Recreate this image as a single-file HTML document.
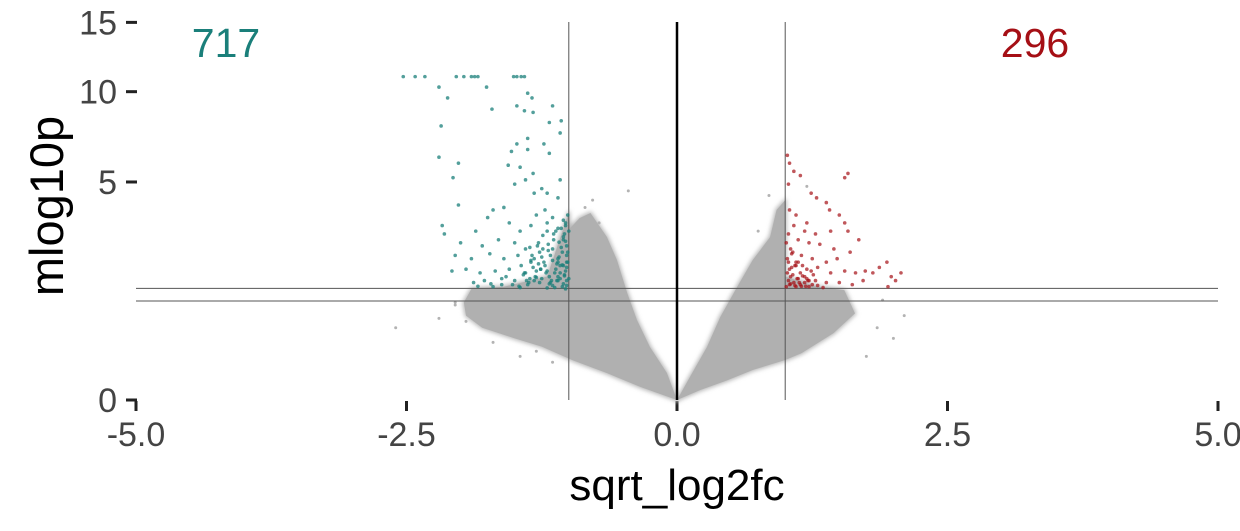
<!DOCTYPE html>
<html><head><meta charset="utf-8"><style>
html,body{margin:0;padding:0;background:#fff;}
svg{display:block;font-family:"Liberation Sans",sans-serif;}
</style></head><body>
<svg id="chart" width="1240" height="531" viewBox="0 0 1240 531">
<defs><filter id="soft" x="-10%" y="-10%" width="120%" height="120%"><feGaussianBlur stdDeviation="2.2"/></filter></defs>
<g id="axes"></g>
<g id="cloud"></g>
<g id="refs"></g>
<g id="down"></g>
<g id="up"></g>
<text x="226" y="57" font-size="41" fill="#1a7f7a" text-anchor="middle">717</text>
<text x="1035" y="57" font-size="41" fill="#a50f15" text-anchor="middle">296</text>
<text x="677" y="500" font-size="44" fill="#000" text-anchor="middle">sqrt_log2fc</text>
<text transform="translate(63,206) rotate(-90)" font-size="47" fill="#000" text-anchor="middle">mlog10p</text>
</svg>
<script>
const xTicks=[-5,-2.5,0,2.5,5];
const xTickLabels=["-5.0","-2.5","0.0","2.5","5.0"];
const yTicks=[0,5,10,15];
const yTickLabels=["0","5","10","15"];
const fcCut=[-1,1];
const pCut=[1.03,1.31];
// grey cloud envelopes (data units)
const cloudLeftX=[0,-0.093,-0.25,-0.37,-0.46,-0.555,-0.647,-0.80,-0.90,-0.99,-1.0,-1.2,-1.6,-1.9,-1.97,-1.95,-1.8,-1.5,-1.25,-0.97,-0.65,-0.34];
const cloudLeftY=[0,0.077,0.295,0.673,1.204,2.06,2.79,3.68,3.48,3.1,3.7,1.6,1.35,1.3,1.0,0.75,0.55,0.4,0.3,0.168,0.077,0.018];
const cloudRightX=[0,0.12,0.277,0.40,0.555,0.70,0.86,0.92,1.0,1.0,1.3,1.546,1.645,1.447,1.15,1.0,0.70,0.46,0.21];
const cloudRightY=[0,0.056,0.295,0.725,1.34,2.06,2.79,3.8,4.2,1.6,1.35,1.27,0.79,0.47,0.23,0.168,0.095,0.04,0.01];
const greyX=[-2.6,-2.2,-2.05,-1.7,-1.45,-1.3,-0.85,-0.45,1.85,2.0,2.1,1.75,1.9,1.2,-2.05,-1.95,-1.15,-0.78,0.75,0.85,-0.72];
const greyY=[0.55,0.7,1.0,0.35,0.2,0.25,3.9,4.6,0.55,0.4,0.75,0.2,1.05,4.8,0.95,0.65,0.15,4.2,3.0,4.4,3.3];
const downX=[-2.53,-2.42,-2.33,-2.04,-1.97,-1.9,-1.87,-1.84,-1.51,-1.48,-1.44,-1.41,-2.2,-2.12,-1.76,-1.38,-1.34,-1.48,-1.41,-1.71,-1.33,-1.15,-1.18,-1.07,-2.18,-1.08,-1.38,-1.48,-1.23,-1.53,-1.38,-1.18,-2.2,-2.02,-1.56,-1.45,-1.33,-1.4,-1.08,-2.07,-1.5,-1.25,-1.2,-1.32,-1.1,-2.02,-1.7,-1.6,-1.3,-1.22,-1.15,-1.05,-2.17,-2.15,-1.86,-1.75,-1.55,-1.45,-1.35,-1.2,-1.1,-1.03,-2.0,-1.8,-1.65,-1.5,-1.4,-1.28,-1.15,-1.05,-2.05,-1.9,-1.73,-1.6,-1.47,-1.35,-1.25,-1.1,-1.02,-2.08,-1.95,-1.82,-1.68,-1.55,-1.42,-1.3,-1.18,-1.08,-1.02,-1.88,-1.78,-1.62,-1.5,-1.38,-1.27,-1.15,-1.05,-1.0,-1.7,-1.45,-1.2,-1.1,-1.03,-1.02,-1.04,-1.06,-1.08,-1.12,-1.14,-1.17,-1.22,-1.25,-1.33,-1.02,-1.01,-1.06,-1.1,-1.03,-1.19,-1.27,-1.36,-1.44,-1.58,
 -1.01,-1.03,-1.05,-1.07,-1.09,-1.11,-1.13,-1.16,-1.19,-1.23,-1.26,-1.29,-1.31,-1.34,-1.37,-1.41,-1.02,-1.04,-1.06,-1.09,-1.12,-1.15,-1.18,-1.21,-1.24,-1.28,-1.32,-1.36,-1.4,-1.01,-1.03,-1.05,-1.08,-1.1,-1.13,-1.17,-1.2,-1.24,-1.3,-1.35,-1.46,-1.52,-1.62,-1.72,-1.84,-1.0,-1.02,-1.04,-1.07,-1.11,-1.14,-1.2,-1.26,-1.32,-1.39];
const downY=[11,11,11,11,11,11,11,11,11,11,11,11,10.3,9.6,10.3,9.9,9.6,9.1,8.8,8.9,8.7,9.1,8.1,8.2,7.9,7.5,7.2,6.9,6.9,6.5,6.6,6.4,6.2,5.9,5.8,5.7,5.4,5.1,5.1,5.2,4.9,4.7,4.5,4.5,4.3,4.0,3.8,3.9,3.6,3.8,3.5,3.4,3.2,2.9,3.0,3.5,3.3,3.0,3.2,3.0,3.1,3.3,2.6,2.5,2.7,2.6,2.4,2.6,2.4,2.7,2.2,2.1,2.25,2.1,2.2,2.0,2.15,2.0,2.2,1.75,1.8,1.7,1.75,1.8,1.65,1.75,1.6,1.7,1.85,1.45,1.5,1.4,1.5,1.4,1.45,1.38,1.42,1.55,1.35,1.33,1.32,1.5,1.3,2.5,2.9,2.3,1.9,1.8,2.7,2.2,1.9,1.55,1.85,1.5,2.0,1.35,1.6,1.75,2.55,2.3,1.55,1.9,1.6,
 3.6,3.2,2.8,2.45,2.15,1.95,1.7,1.5,2.35,2.0,1.8,2.5,1.6,2.2,1.45,1.7,1.38,1.62,1.92,2.62,3.0,2.05,1.42,1.7,2.85,1.95,1.5,2.45,1.7,2.3,2.65,1.9,1.55,2.1,1.33,1.45,1.75,2.4,1.58,2.05,1.36,1.4,1.55,1.42,1.36,3.0,2.0,1.65,3.1,1.5,2.9,3.3,1.8,2.1,1.5];
const upX=[1.02,1.04,1.08,1.14,1.03,1.58,1.55,1.24,1.29,1.38,1.41,1.04,1.1,1.2,1.5,1.55,1.08,1.18,1.28,1.42,1.58,1.68,1.12,1.22,1.32,1.45,1.6,1.05,1.15,1.25,1.38,1.48,1.03,1.1,1.2,1.3,1.42,1.55,1.65,1.74,1.81,1.87,1.94,1.98,2.07,2.02,1.05,1.12,1.18,1.28,1.38,1.5,1.62,1.72,1.95,1.04,1.1,1.22,1.35,1.02,1.06,1.14,1.08,1.16,
 1.01,1.03,1.05,1.07,1.09,1.11,1.13,1.16,1.19,1.22,1.25,1.02,1.04,1.06,1.09,1.12,1.15,1.18,1.21,1.26,1.3,1.01,1.03,1.07,1.1,1.14,1.2,1.24];
const upY=[6.3,5.9,5.5,5.3,4.9,5.4,5.2,4.5,4.3,4.1,3.8,3.8,3.6,3.3,3.6,3.3,3.2,3.0,2.9,3.0,3.0,2.7,2.7,2.6,2.55,2.4,2.3,2.4,2.2,2.1,2.0,2.1,2.0,1.9,1.8,1.85,1.7,1.75,1.7,1.75,1.7,1.85,2.0,1.6,1.7,1.5,1.6,1.55,1.45,1.5,1.45,1.45,1.4,1.5,1.35,1.4,1.35,1.35,1.33,1.7,1.85,1.7,1.45,1.9,
 1.35,1.5,1.42,1.65,1.38,1.55,1.45,1.62,1.36,1.5,1.4,2.1,1.8,2.25,1.9,2.0,1.36,1.6,1.5,1.65,1.38,2.6,2.9,2.3,2.0,1.4,1.55,1.75];

const NS="http://www.w3.org/2000/svg";
const X=v=>677+v*108.2;
const Y=v=>400-97.5*Math.sqrt(v);
function mk(tag,attrs,parent){const e=document.createElementNS(NS,tag);for(const k in attrs)e.setAttribute(k,attrs[k]);parent.appendChild(e);return e;}
const axes=document.getElementById('axes');
xTicks.forEach((t,i)=>{
  const l=mk('line',{x1:X(t),x2:X(t),y1:401,y2:411,stroke:'#222','stroke-width':3},axes);
  
  
  const tx=mk('text',{x:X(t),y:446,'font-size':34,fill:'#444','text-anchor':'middle'},axes);
  tx.textContent=xTickLabels[i];
  
  
});
yTicks.forEach((t,i)=>{
  const l=mk('line',{x1:126,x2:137,y1:Y(t),y2:Y(t),stroke:'#222','stroke-width':3},axes);
  
  
  const tx=mk('text',{x:117,y:Y(t)+12,'font-size':34,fill:'#444','text-anchor':'end'},axes);
  tx.textContent=yTickLabels[i];
  
  
});
const cloud=document.getElementById('cloud');
function poly(xs,ys,name){
  const p=mk('polygon',{points:xs.map((x,i)=>X(x)+','+Y(ys[i])).join(' '),fill:'#b3b3b3',stroke:'#bcbcbc','stroke-width':3,'stroke-linejoin':'round',filter:'url(#soft)'},cloud);
  
  
  const q=mk('polygon',{points:xs.map((x,i)=>X(x)+','+Y(ys[i])).join(' '),fill:'#b0b0b0'},cloud);
  
  
}
poly(cloudLeftX,cloudLeftY,'cloud-left');
poly(cloudRightX,cloudRightY,'cloud-right');
greyX.forEach((x,i)=>{
  const c=mk('circle',{cx:X(x),cy:Y(greyY[i]),r:1.5,fill:'#b3b3b3'},cloud);
  
  
});
const refs=document.getElementById('refs');
fcCut.forEach(v=>{
  const l=mk('line',{x1:X(v),x2:X(v),y1:22,y2:400,stroke:'#555','stroke-width':1},refs);
  
  
});
pCut.forEach(v=>{
  const l=mk('line',{x1:136,x2:1218,y1:Y(v),y2:Y(v),stroke:'#555','stroke-width':1},refs);
  
  
});
const zl=mk('line',{x1:X(0),x2:X(0),y1:22,y2:400,stroke:'#000','stroke-width':2.5},refs);


const down=document.getElementById('down');
downX.forEach((x,i)=>{
  const c=mk('circle',{cx:X(x),cy:Y(downY[i]),r:1.8,fill:'#1a7f7a','fill-opacity':0.75},down);
  
  
});
const up=document.getElementById('up');
upX.forEach((x,i)=>{
  const c=mk('circle',{cx:X(x),cy:Y(upY[i]),r:1.8,fill:'#a50f15','fill-opacity':0.7},up);
  
  
});
</script>
</body></html>
